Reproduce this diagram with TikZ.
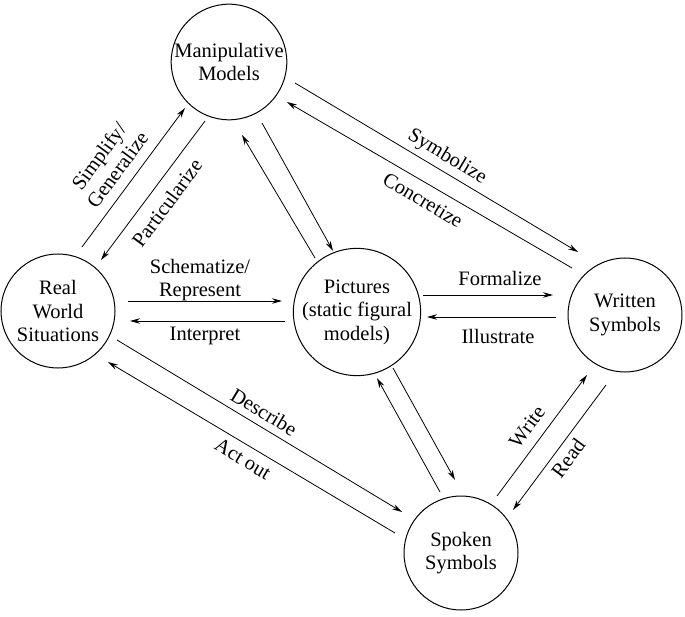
\documentclass[tikz,border=0pt]{standalone}
\usepackage{fontspec}
\setmainfont{Liberation Serif}
\usetikzlibrary{arrows.meta}
\begin{document}
\begin{tikzpicture}[x=1pt,y=-1pt,
  state/.style={draw, circle, line width=1pt, minimum size=114pt, inner sep=0pt, align=center, font=\fontsize{20.5}{23.5}\selectfont},
  conn/.style={line width=0.8pt, -{Stealth[length=10pt,width=5.5pt]}},
  lbl/.style={font=\fontsize{20.5}{23}\selectfont, align=center, inner sep=0pt}]
\useasboundingbox (0,0) rectangle (685,617);
% states
\node[state] (mm) at (229,62) {Manipulative\\Models};
\node[state] (rw) at (58,311) {Real\\World\\Situations};
\node[state] (pic) at (357,312) {Pictures\\(static figural\\models)};
\node[state] (ws) at (625,315) {Written\\Symbols};
\node[state] (sp) at (461,553) {Spoken\\Symbols};
% connector end points
\coordinate (a1) at (82,247);   \coordinate (a2) at (185,108);
\coordinate (b1) at (205,121);  \coordinate (b2) at (101,260);
\coordinate (c1) at (262,123);  \coordinate (c2) at (333,251);
\coordinate (d1) at (315,258);  \coordinate (d2) at (242,135);
\coordinate (e1) at (295,83);   \coordinate (e2) at (578,252);
\coordinate (f1) at (572,268);  \coordinate (f2) at (287,102);
\coordinate (g1) at (128,301);  \coordinate (g2) at (282,301);
\coordinate (h1) at (285,321);  \coordinate (h2) at (130,321);
\coordinate (i1) at (423,295);  \coordinate (i2) at (553,295);
\coordinate (j1) at (556,317);  \coordinate (j2) at (427,317);
\coordinate (k1) at (117,340);  \coordinate (k2) at (402,512);
\coordinate (l1) at (395,533);  \coordinate (l2) at (108,362);
\coordinate (m1) at (393,368);  \coordinate (m2) at (455,480);
\coordinate (n1) at (440,492);  \coordinate (n2) at (377,378);
\coordinate (o1) at (497,496);  \coordinate (o2) at (587,375);
\coordinate (p1) at (606,385);  \coordinate (p2) at (513,510);
% connectors
\draw[conn] (a1) -- (a2);
\draw[conn] (b1) -- (b2);
\draw[conn] (c1) -- (c2);
\draw[conn] (d1) -- (d2);
\draw[conn] (e1) -- (e2);
\draw[conn] (f1) -- (f2);
\draw[conn] (g1) -- (g2);
\draw[conn] (h1) -- (h2);
\draw[conn] (i1) -- (i2);
\draw[conn] (j1) -- (j2);
\draw[conn] (k1) -- (k2);
\draw[conn] (l1) -- (l2);
\draw[conn] (m1) -- (m2);
\draw[conn] (n1) -- (n2);
\draw[conn] (o1) -- (o2);
\draw[conn] (p1) -- (p2);
% labels
\node[lbl, rotate=53.7] (tsimp) at (108,163) {Simplify/\\Generalize};
\node[lbl, rotate=53.7] (tpart) at (167,203) {Particularize};
\node[lbl, rotate=-30.8] (tsym) at (447,157) {Symbolize};
\node[lbl, rotate=-30.8] (tcon) at (423,200) {Concretize};
\node[lbl] (tsch) at (200,280) {Schematize/\\Represent};
\node[lbl] (tint) at (205,336) {Interpret};
\node[lbl] (tfor) at (500,278) {Formalize};
\node[lbl] (till) at (498,336) {Illustrate};
\node[lbl, rotate=-31.1] (tdes) at (264,412) {Describe};
\node[lbl, rotate=-31.1] (tact) at (243,459) {Act out};
\node[lbl, rotate=53.4] (twri) at (527,427) {Write};
\node[lbl, rotate=53.4] (trea) at (568,458) {Read};
\end{tikzpicture}
\end{document}
